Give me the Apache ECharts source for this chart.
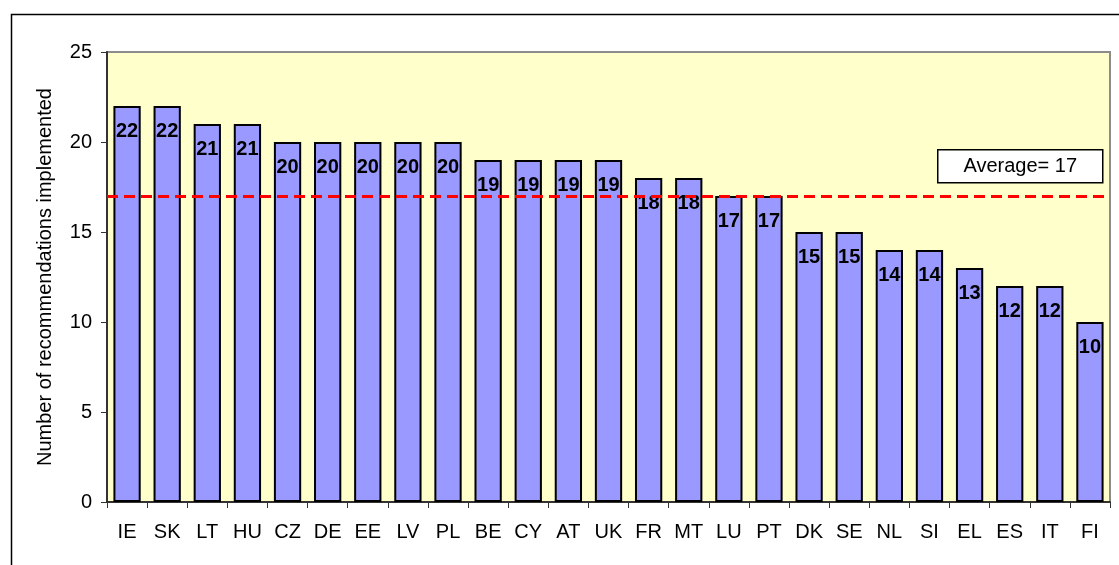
<!DOCTYPE html>
<html>
<head>
<meta charset="utf-8">
<script src="https://cdn.jsdelivr.net/npm/echarts@6/dist/echarts.min.js"></script>
<style>
  html, body { margin: 0; padding: 0; background: #ffffff; }
  #chart { width: 1119px; height: 565px; }
</style>
</head>
<body>
<div id="chart"></div>
<script>
// countries, sorted by number of recommendations implemented
const countries = ["IE", "SK", "LT", "HU", "CZ", "DE", "EE", "LV", "PL", "BE", "CY", "AT", "UK",
  "FR", "MT", "LU", "PT", "DK", "SE", "NL", "SI", "EL", "ES", "IT", "FI"];
const implemented = [22, 22, 21, 21, 20, 20, 20, 20, 20, 19, 19, 19, 19,
  18, 18, 17, 17, 15, 15, 14, 14, 13, 12, 12, 10];
const average = 17;
const yTicks = [0, 5, 10, 15, 20, 25];

const font = "'Liberation Sans', Arial, sans-serif";

let chart = echarts.init(document.getElementById("chart"));
let option = {
  animation: false,
  backgroundColor: "#ffffff",
  textStyle: { fontFamily: font },
  grid: {
    left: 107,
    right: 9,
    top: 52,
    bottom: 63,
    show: true,
    backgroundColor: "#ffffcc",
    borderColor: "#8c8c8c",
    borderWidth: 2
  },
  graphic: [
    {
      type: "rect",
      left: 9,
      top: 12,
      shape: { width: 1130, height: 580 },
      style: { fill: "none", stroke: "#000000", lineWidth: 1.5 },
      silent: true
    },
    {
      type: "group",
      left: 937,
      top: 149,
      children: [
        {
          type: "rect",
          shape: { x: 0, y: 0, width: 165, height: 33 },
          style: { fill: "#ffffff", stroke: "#000000", lineWidth: 1.5 }
        },
        {
          type: "text",
          x: 82.5,
          y: 17,
          style: {
            text: "Average= " + average,
            fill: "#000000",
            font: "20px " + font,
            align: "center",
            verticalAlign: "middle"
          }
        }
      ]
    }
  ],
  xAxis: {
    type: "category",
    data: countries,
    axisLine: { lineStyle: { color: "#333333", width: 2 } },
    axisTick: { show: true, length: 6, lineStyle: { color: "#333333", width: 1 } },
    axisLabel: { color: "#000000", fontSize: 20, margin: 20, fontFamily: font, interval: 0 },
    splitLine: { show: false }
  },
  yAxis: {
    type: "value",
    min: yTicks[0],
    max: yTicks[yTicks.length - 1],
    interval: 5,
    name: "Number of recommendations implemented",
    nameLocation: "middle",
    nameGap: 52,
    nameTextStyle: { color: "#000000", fontSize: 20, fontFamily: font },
    axisLine: { show: true, lineStyle: { color: "#333333", width: 2 } },
    axisTick: { show: true, length: 6, lineStyle: { color: "#333333", width: 1 } },
    axisLabel: { color: "#000000", fontSize: 20, margin: 15, fontFamily: font },
    splitLine: { show: false }
  },
  series: [
    {
      type: "bar",
      data: implemented,
      barWidth: "68%",
      itemStyle: { color: "#9999ff", borderColor: "#000000", borderWidth: 2 },
      label: {
        show: true,
        position: "insideTop",
        distance: 15,
        color: "#000000",
        fontWeight: "bold",
        fontSize: 20,
        fontFamily: font
      },
      markLine: {
        silent: true,
        symbol: "none",
        label: { show: false },
        lineStyle: { color: "#ff0000", width: 3, type: [11, 6] },
        data: [{ yAxis: average }]
      }
    }
  ]
};
chart.setOption(option);
</script>
</body>
</html>
